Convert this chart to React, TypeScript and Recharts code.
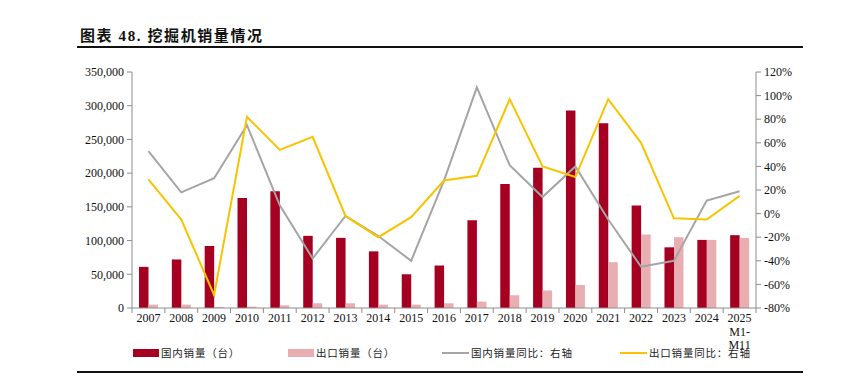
import React from 'react'
import { ComposedChart, Bar, Line, XAxis, YAxis } from 'recharts'

const years = [
  '2007', '2008', '2009', '2010', '2011', '2012', '2013', '2014', '2015', '2016',
  '2017', '2018', '2019', '2020', '2021', '2022', '2023', '2024', '2025M1-M11',
]

// 国内销量（台）
const domestic = [
  61000, 72000, 92000, 163000, 173000, 107000, 104000, 84000, 50000, 63000,
  130000, 184000, 208000, 293000, 274000, 152000, 90000, 101000, 108000,
]

// 出口销量（台）
const exportSales = [
  5000, 5000, 1500, 2000, 4000, 7000, 7000, 5000, 5000, 7000,
  9500, 19000, 26000, 34000, 68000, 109000, 105000, 101000, 104000,
]

// 国内销量同比（%）
const domesticYoy = [
  53, 18, 30, 75, 7, -38, -2, -19, -40, 28,
  107, 41, 14, 40, -5, -45, -40, 11, 19,
]

// 出口销量同比（%）
const exportYoy = [
  29, -5, -69, 82, 54, 65, -2, -20, -3, 28,
  32, 97, 40, 31, 97, 60, -4, -5, 15,
]

const leftTicks = [0, 50000, 100000, 150000, 200000, 250000, 300000, 350000]
const rightTicks = [-80, -60, -40, -20, 0, 20, 40, 60, 80, 100, 120]

const data = years.map((year, i) => ({
  year,
  domestic: domestic[i],
  exportSales: exportSales[i],
  domesticYoy: domesticYoy[i],
  exportYoy: exportYoy[i],
}))

const W = 842
const H = 380
const PLOT_LEFT = 132
const PLOT_RIGHT = 756
const PLOT_TOP = 72
const PLOT_BOTTOM = 308
const BAND = (PLOT_RIGHT - PLOT_LEFT) / years.length

const RED = '#A50021'
const PINK = '#E8AEB1'
const GRAY = '#A5A5A5'
const YELLOW = '#F8C400'
const AXIS = '#8C8C8C'
const SERIF = "'Liberation Serif', 'Times New Roman', serif"
const CJK = "'Noto Sans CJK SC', sans-serif"

const fmt = (v: number) => v.toLocaleString('en-US')

const XTick = (props: any) => {
  const { x, payload, index } = props
  const label: string = payload.value
  const lines = label.startsWith('2025') ? ['2025', 'M1-', 'M11'] : [label]
  const left = x - BAND / 2
  return (
    <g>
      <line x1={left} y1={PLOT_BOTTOM} x2={left} y2={PLOT_BOTTOM + 5} stroke={AXIS} />
      {index === years.length - 1 && (
        <line x1={left + BAND} y1={PLOT_BOTTOM} x2={left + BAND} y2={PLOT_BOTTOM + 5} stroke={AXIS} />
      )}
      <text x={x} y={PLOT_BOTTOM + 14} textAnchor="middle" fontFamily={SERIF} fontSize={12} fill="#111">
        {lines.map((t, i) => (
          <tspan key={t} x={x} dy={i === 0 ? 0 : 13.5}>{t}</tspan>
        ))}
      </text>
    </g>
  )
}

const legendItems = [
  { label: '国内销量（台）', color: RED, kind: 'box', x: 133 },
  { label: '出口销量（台）', color: PINK, kind: 'box', x: 288 },
  { label: '国内销量同比：右轴', color: GRAY, kind: 'line', x: 442 },
  { label: '出口销量同比：右轴', color: YELLOW, kind: 'line', x: 620 },
]

export default function App() {
  return (
    <div style={{ position: 'absolute', left: 0, top: 0, width: W, height: H, background: '#fff' }}>
      <div
        style={{
          position: 'absolute', left: 80, top: 25, fontFamily: SERIF, fontWeight: 700,
          fontSize: 15, letterSpacing: 1.6, color: '#111', lineHeight: '20px', whiteSpace: 'nowrap',
        }}
      >
        <span style={{ fontFamily: CJK }}>图表</span> 48. <span style={{ fontFamily: CJK }}>挖掘机销量情况</span>
      </div>
      <div style={{ position: 'absolute', left: 77, top: 46, width: 726, height: 2, background: '#111' }} />
      <div style={{ position: 'absolute', left: 77, top: 371, width: 726, height: 1.5, background: '#111' }} />

      <ComposedChart
        width={W}
        height={H}
        data={data}
        margin={{ top: PLOT_TOP, right: 0, bottom: 0, left: 0 }}
        barGap={0}
        style={{ position: 'absolute', left: 0, top: 0 }}
      >
        <XAxis
          dataKey="year"
          height={H - PLOT_BOTTOM}
          interval={0}
          tickLine={false}
          axisLine={{ stroke: AXIS }}
          tick={<XTick />}
        />
        <YAxis
          yAxisId="left"
          orientation="left"
          width={PLOT_LEFT}
          domain={[0, 350000]}
          ticks={leftTicks}
          tickFormatter={fmt}
          tickSize={5}
          tickMargin={3}
          axisLine={{ stroke: AXIS }}
          tickLine={{ stroke: AXIS }}
          tick={{ fontFamily: SERIF, fontSize: 12, fill: '#111' }}
        />
        <YAxis
          yAxisId="right"
          orientation="right"
          width={W - PLOT_RIGHT}
          domain={[-80, 120]}
          ticks={rightTicks}
          tickFormatter={(v) => `${v}%`}
          tickSize={5}
          tickMargin={3}
          axisLine={{ stroke: AXIS }}
          tickLine={{ stroke: AXIS }}
          tick={{ fontFamily: SERIF, fontSize: 12, fill: '#111' }}
        />
        <Bar yAxisId="left" dataKey="domestic" fill={RED} barSize={9.5} isAnimationActive={false} />
        <Bar yAxisId="left" dataKey="exportSales" fill={PINK} barSize={9.5} isAnimationActive={false} />
        <Line
          yAxisId="right"
          type="linear"
          dataKey="domesticYoy"
          stroke={GRAY}
          strokeWidth={2}
          dot={false}
          isAnimationActive={false}
        />
        <Line
          yAxisId="right"
          type="linear"
          dataKey="exportYoy"
          stroke={YELLOW}
          strokeWidth={2}
          dot={false}
          isAnimationActive={false}
        />
      </ComposedChart>

      {legendItems.map((item) => (
        <div
          key={item.label}
          style={{
            position: 'absolute', left: item.x, top: 346, height: 14, display: 'flex',
            alignItems: 'center', whiteSpace: 'nowrap',
          }}
        >
          {item.kind === 'box' ? (
            <div style={{ width: 26, height: 8, background: item.color }} />
          ) : (
            <div style={{ width: 27, height: 2, background: item.color }} />
          )}
          <span style={{ marginLeft: 2, fontFamily: CJK, fontSize: 10.5, lineHeight: '12px', letterSpacing: 0.8, color: '#222' }}>
            {item.label}
          </span>
        </div>
      ))}
    </div>
  )
}
